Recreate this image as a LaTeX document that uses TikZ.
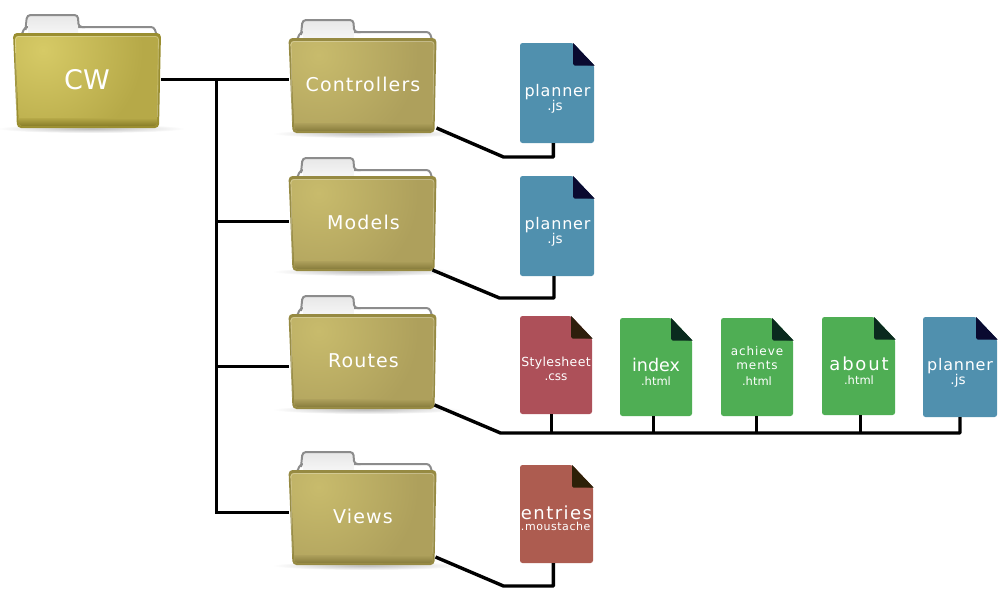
\documentclass[tikz,border=0pt]{standalone}
\usepackage{fontspec}
\setmainfont{DejaVu Sans}
\usetikzlibrary{calc}
\definecolor{jsblue}{HTML}{5090AE}
\definecolor{jsfold}{HTML}{0A0A30}
\definecolor{cssred}{HTML}{AD5059}
\definecolor{cssfold}{HTML}{2E1E0C}
\definecolor{htmlgreen}{HTML}{4FAE54}
\definecolor{htmlfold}{HTML}{0A2A1E}
\definecolor{mustbrown}{HTML}{AD5C50}
\definecolor{mustfold}{HTML}{2D2008}
\definecolor{cwlight}{HTML}{D6CA66}
\definecolor{cwbase}{HTML}{B6A948}
\definecolor{cwedge}{HTML}{9A8E30}
\definecolor{cwdark}{HTML}{857A26}
\definecolor{sublight}{HTML}{C8BB6C}
\definecolor{subbase}{HTML}{AEA05C}
\definecolor{subedge}{HTML}{968A42}
\definecolor{subdark}{HTML}{857A3A}
\tikzset{
  x=1pt,y=-1pt,
  link/.style={draw=black,line width=3pt,line join=miter},
  slant/.style={draw=black,line width=3.4pt,line join=round},
  anchorbox/.style={rectangle,inner sep=0pt,outer sep=0pt},
  lab/.style={anchor=base,text=white,inner sep=0pt,outer sep=0pt},
}
% name, x, y, light, base, edge, dark
\newcommand{\folderbox}[7]{%
  \begin{scope}[shift={(#2,#3)}]
    \shade[inner color=black!26,outer color=white] (78,95.5) ellipse [x radius=94pt,y radius=4.5pt];
    \draw[draw=black!45,line width=2pt,fill=white,rounded corners=3pt]
      (8,3) -- (12,-6) -- (141,-6) -- (144,3) -- cycle;
    \shade[top color=black!9,bottom color=black!4] (15,-17) rectangle (65,0);
    \draw[draw=black!45,line width=2pt,rounded corners=3.5pt]
      (12.5,-3) -- (14,-18) -- (65,-18) -- (65.5,-6) -- (72,-6);
    \fill[white] (9.5,-.5) rectangle (143,3);
    \fill[#6,rounded corners=4pt] (0,0) -- (148,0) -- (146,95) -- (4,95) -- cycle;
    \begin{scope}
      \clip[rounded corners=3pt] (2,3) -- (146,3) -- (144,93) -- (6,93) -- cycle;
      \fill[#5] (0,0) rectangle (148,95);
      \shade[inner color=#4,outer color=#5] (30,17) circle [radius=100pt];
      \shade[top color=#5,bottom color=#7] (0,85) rectangle (148,93.5);
    \end{scope}
    \draw[white,opacity=.28,line width=.8pt,rounded corners=3pt] (3.5,84) -- (2.5,3.5) -- (145.5,3.5) -- (144.5,84);
    \node[anchorbox,minimum width=148pt,minimum height=95pt] (#1) at (74,47.5) {};
  \end{scope}}
% name, x0, y0, x1, y1, colour, fold colour
\newcommand{\filesheet}[7]{%
  \fill[#6,rounded corners=2.5pt] (#2,#3) -- (#4-21,#3) -- (#4,#3+22) -- (#4,#5) -- (#2,#5) -- cycle;
  \fill[#7,rounded corners=1.5pt] (#4-21,#3) -- (#4-21,#3+22.5) -- (#4+.5,#3+22.5);
  \fill[#7] (#4-21,#3) -- (#4-19,#3+21) -- (#4,#3+22.5) -- cycle;
  \node[anchorbox,minimum width=#4pt-#2pt,minimum height=#5pt-#3pt] (#1) at ({(#2+#4)/2},{(#3+#5)/2}) {};}
% name, x, baseline y, size, letterspace, text
\newcommand{\labeltext}[6]{%
  \node[lab] (#1) at (#2,#3) {\fontsize{#4pt}{#4pt}\selectfont\addfontfeature{LetterSpace=#5}#6};}
\begin{document}
\begin{tikzpicture}
\useasboundingbox (0,0) rectangle (1000,600);
\fill[white] (0,0) rectangle (1000,600);

\folderbox{cw}{13}{33}{cwlight}{cwbase}{cwedge}{cwdark}
\folderbox{ctrl}{288.5}{38}{sublight}{subbase}{subedge}{subdark}
\folderbox{models}{288.5}{176}{sublight}{subbase}{subedge}{subdark}
\folderbox{routes}{288.5}{314}{sublight}{subbase}{subedge}{subdark}
\folderbox{views}{288.5}{470}{sublight}{subbase}{subedge}{subdark}

\filesheet{fa}{520}{43}{594}{143}{jsblue}{jsfold}
\filesheet{fb}{520}{176}{594}{276}{jsblue}{jsfold}
\filesheet{fc}{520}{316}{592}{414}{cssred}{cssfold}
\filesheet{fd}{620}{318}{692}{416}{htmlgreen}{htmlfold}
\filesheet{fe}{721}{318}{793}{416}{htmlgreen}{htmlfold}
\filesheet{ff}{822}{317}{895}{415}{htmlgreen}{htmlfold}
\filesheet{fg}{923}{317}{997}{417}{jsblue}{jsfold}
\filesheet{fh}{520}{465}{593}{563}{mustbrown}{mustfold}

\labeltext{tcw}{87}{89.5}{27}{0}{CW}
\labeltext{tctrl}{363}{91}{19}{6}{Controllers}
\labeltext{tmodels}{363.5}{229}{19}{6}{Models}
\labeltext{troutes}{363.5}{367}{19}{6}{Routes}
\labeltext{tviews}{363}{523.5}{19}{6}{Views}

\labeltext{ta1}{557.5}{96.7}{16}{5}{planner}
\labeltext{ta2}{555}{110.7}{13.5}{0}{.js}
\labeltext{tb1}{557.5}{229.7}{16}{5}{planner}
\labeltext{tb2}{555}{243.7}{13.5}{0}{.js}
\labeltext{tc1}{556}{366.7}{12.5}{3}{Stylesheet}
\labeltext{tc2}{556}{380}{12}{0}{.css}
\labeltext{td1}{656}{371.7}{17.5}{0}{index}
\labeltext{td2}{656}{385.7}{11.5}{0}{.html}
\labeltext{te1}{757}{355}{12}{8}{achieve}
\labeltext{te2}{757}{369.3}{12}{8}{ments}
\labeltext{te3}{757}{385.7}{11.5}{0}{.html}
\labeltext{tf1}{859}{370}{18}{10}{about}
\labeltext{tf2}{859}{384.3}{11.5}{0}{.html}
\labeltext{tg1}{960}{370.7}{16}{5}{planner}
\labeltext{tg2}{958}{384.3}{13.5}{0}{.js}
\labeltext{th1}{556.5}{519}{18}{8}{entries}
\labeltext{th2}{555.7}{530.7}{11}{5}{.moustache}

% trunk and branches
\coordinate (trunktop) at (216,79);
\coordinate (trunkm) at (216,221);
\coordinate (trunkr) at (216,366);
\coordinate (trunkv) at (216,512);
\draw[link] (cw.east |- trunktop) -- (ctrl.west |- trunktop);
\draw[link] (trunktop) -- (trunkv) -- (views.west |- trunkv);
\draw[link] (trunkm) -- (models.west |- trunkm);
\draw[link] (trunkr) -- (routes.west |- trunkr);

% folder to file
\draw[slant] ([yshift=5pt]ctrl.south east) -- ++(67,29) -| ([xshift=-3.7pt]fa.south);
\draw[slant] ([xshift=-4pt,yshift=1pt]models.south east) -- ++(67,28) -| ([xshift=-3pt]fb.south);
\draw[slant] ([xshift=-2pt,yshift=4pt]routes.south east) -- ++(66,28) coordinate (bus) -- (bus -| fg.south) -- (fg.south);
\foreach \f/\dx in {fc/-5,fd/-3,fe/-1,ff/1.5}{
  \draw[link] ([xshift=\dx pt]\f.south) -- ([xshift=\dx pt]\f.south |- bus);
}
\draw[slant] ([xshift=-1pt,yshift=8pt]views.south east) -- ++(68,29) -| ([xshift=-3.2pt]fh.south);
\end{tikzpicture}
\end{document}
